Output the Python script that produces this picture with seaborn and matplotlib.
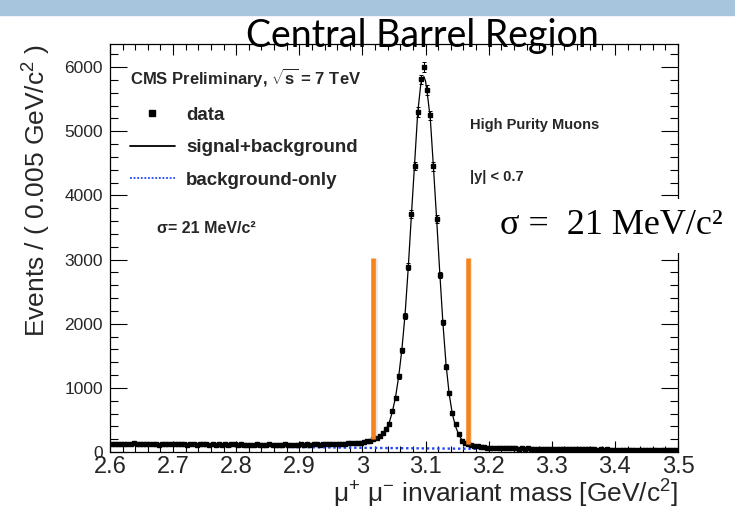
import numpy as np
import matplotlib
matplotlib.use("Agg")
import matplotlib.pyplot as plt
import matplotlib.patheffects as pe
from matplotlib.lines import Line2D
from matplotlib.patches import Rectangle
from matplotlib.ticker import MultipleLocator
import seaborn as sns

# ------------------------
# DADOS
# ------------------------
BIN_LO = 2.6
BIN_WIDTH = 0.005

# contagens por bin de 5 MeV, de 2.600 a 3.500 GeV
counts = [
    128, 122, 131, 125, 119, 127, 124, 133, 121, 126, 118, 129, 123, 120, 127, 116, 125, 121, 130, 119,
    124, 117, 128, 121, 115, 126, 119, 113, 122, 118, 125, 112, 120, 116, 123, 110, 119, 114, 121, 117,
    111, 118, 113, 108, 116, 112, 119, 107, 114, 110, 117, 112, 108, 115, 111, 118, 113, 109, 116, 114,
    117, 112, 120, 115, 118, 123, 116, 121, 125, 119, 126, 122, 128, 131, 127, 134, 138, 135, 142, 147,
    155, 164, 177, 196, 214, 250, 292, 354, 443, 640, 849, 1177, 1589, 2125, 2890, 3714, 4458, 5302, 5808, 5995,
    5640, 5250, 4453, 3636, 2760, 2020, 1328, 927, 604, 432, 276, 172, 138, 118, 104, 93, 86, 79, 74, 69,
    66, 62, 64, 59, 61, 57, 60, 55, 58, 53, 56, 52, 55, 50, 53, 49, 51, 48, 50, 47,
    46, 49, 44, 47, 43, 45, 42, 44, 41, 43, 40, 42, 39, 41, 38, 40, 37, 39, 36, 38,
    35, 37, 34, 36, 33, 35, 32, 34, 31, 33, 30, 33, 29, 31, 30, 28, 30, 27, 29, 28,
]

# curva do ajuste sinal+fundo
fit_mass = [2.600, 2.650, 2.700, 2.750, 2.800, 2.850, 2.900, 2.950, 2.975, 3.000,
            3.010, 3.020, 3.0275, 3.0325, 3.0375, 3.0425, 3.0475, 3.0525, 3.0575, 3.0625,
            3.0675, 3.0725, 3.0775, 3.0825, 3.0875, 3.0925, 3.095, 3.0975, 3.100, 3.1025,
            3.1075, 3.1125, 3.1175, 3.1225, 3.1275, 3.1325, 3.1375, 3.1425, 3.1475, 3.1525,
            3.1575, 3.1625, 3.1675, 3.175, 3.185, 3.200, 3.250, 3.300, 3.350, 3.400,
            3.450, 3.500]
fit_counts = [124, 121, 119, 117, 114, 114, 117, 124, 132, 146,
              160, 188, 240, 290, 360, 460, 630, 860, 1180, 1600,
              2140, 2860, 3680, 4470, 5280, 5740, 5830, 5850, 5780, 5610,
              5200, 4440, 3640, 2800, 2010, 1360, 900, 590, 400, 272,
              190, 145, 118, 96, 80, 66, 57, 50, 44, 38,
              33, 29]

# curva só fundo
bkg_mass = [2.6, 2.7, 2.8, 2.9, 3.0, 3.1, 3.2, 3.3, 3.4, 3.5]
bkg_counts = [117, 102, 88, 76, 65, 56, 48, 40, 33, 27]

# janela de massa (linhas laranja)
window_mass = [3.0175, 3.1665]
window_low = [210, 125]
window_high = 3030

# ------------------------
# ESTILO
# ------------------------
sns.set_theme(style="ticks")
plt.rcParams["font.family"] = ["Liberation Sans", "DejaVu Sans"]
plt.rcParams["mathtext.fontset"] = "custom"
plt.rcParams["mathtext.rm"] = "Liberation Sans"
plt.rcParams["mathtext.it"] = "Liberation Sans:italic"
plt.rcParams["mathtext.bf"] = "Liberation Sans:bold"

fig = plt.figure(figsize=(7.35, 5.14), dpi=100)
fig.patches.append(Rectangle((0, 1 - 15 / 514), 1, 15 / 514, transform=fig.transFigure,
                             color="#a8c5de", zorder=0))
ax = fig.add_axes([110 / 735, 1 - 452 / 514, 568 / 735, 408 / 514])

# ------------------------
# DESENHO
# ------------------------
mass = BIN_LO + BIN_WIDTH * (np.arange(len(counts)) + 0.5)
counts = np.array(counts, dtype=float)

sns.lineplot(x=bkg_mass, y=bkg_counts, ax=ax, color="#1f45ff", lw=1.7,
             linestyle=(0, (1, 1.2)), estimator=None, zorder=2)
sns.lineplot(x=fit_mass, y=fit_counts, ax=ax, color="black", lw=0.9,
             estimator=None, sort=False, zorder=3)
ax.errorbar(mass, counts, yerr=np.sqrt(counts), xerr=BIN_WIDTH / 2, fmt="s",
            color="black", ms=2.8, elinewidth=0.7, capsize=1.3, capthick=0.7, zorder=4)

ax.vlines(window_mass, window_low, window_high, color="#f7821b", lw=3.3, zorder=5,
          path_effects=[pe.SimpleLineShadow(offset=(1.2, -0.6), shadow_color="gray", alpha=0.2),
                        pe.Normal()])

ax.set_xlim(2.6, 3.5)
ax.set_ylim(0, 6360)
ax.xaxis.set_minor_locator(MultipleLocator(0.02))
ax.yaxis.set_major_locator(MultipleLocator(1000))
ax.yaxis.set_minor_locator(MultipleLocator(200))
ax.set_xticks(np.arange(2.6, 3.51, 0.1))
ax.set_xticklabels(["2.6", "2.7", "2.8", "2.9", "3", "3.1", "3.2", "3.3", "3.4", "3.5"])

ax.tick_params(axis="both", which="both", direction="in", top=True, right=True,
               color="black", width=0.8)
ax.tick_params(axis="y", which="major", length=12, labelsize=12.5, pad=5)
ax.tick_params(axis="y", which="minor", length=6)
ax.tick_params(axis="x", which="major", length=8, labelsize=17, pad=3)
ax.tick_params(axis="x", which="minor", length=4)
for s in ax.spines.values():
    s.set_linewidth(0.9)
    s.set_color("black")

ax.set_xlabel(r"$\mathrm{\mu}^{+}$ $\mathrm{\mu}^{-}$ invariant mass [GeV/c$^{2}$]",
              fontsize=19, loc="right", labelpad=0)
ax.set_ylabel(r"Events / ( 0.005 GeV/c$^{2}$ )", fontsize=19, loc="top", labelpad=8)

# legenda
handles = [
    Line2D([], [], marker="s", color="black", ls="none", ms=5),
    Line2D([], [], color="black", lw=1.3),
    Line2D([], [], color="#1f45ff", lw=1.3, ls=(0, (1, 1))),
]
ax.legend(handles, ["data", "signal+background", "background-only"],
          loc="upper left", bbox_to_anchor=(0.035, 0.846), frameon=False,
          prop={"weight": "bold", "size": 13.5}, handlelength=2.4,
          handletextpad=0.6, labelspacing=0.82, borderpad=0, borderaxespad=0)

ax.text(0.035, 0.917, r"CMS Preliminary, $\mathbf{\sqrt{s}}$ = 7 TeV", transform=ax.transAxes,
        fontsize=12, fontweight="bold", va="center", ha="left")
ax.text(0.083, 0.549, "σ= 21 MeV/c²", transform=ax.transAxes,
        fontsize=11.5, fontweight="bold", va="center", ha="left")
ax.text(0.634, 0.801, "High Purity Muons", transform=ax.transAxes,
        fontsize=10.5, fontweight="bold", va="center", ha="left")
ax.text(0.634, 0.674, "|y| < 0.7", transform=ax.transAxes,
        fontsize=10.5, fontweight="bold", va="center", ha="left")

# textos do slide
fig.text(422 / 735, 1 - 47 / 514, "Central Barrel Region", ha="center", va="baseline",
         fontsize=27, family="Lato", color="black")
fig.text(500 / 735, 1 - 226 / 514, "σ =  21 MeV/c²", ha="left", va="center",
         fontsize=26, family="Liberation Serif", color="black", zorder=10,
         bbox=dict(facecolor="white", edgecolor="none", boxstyle="square,pad=0.3"))

fig.savefig("out.png", dpi=100)
